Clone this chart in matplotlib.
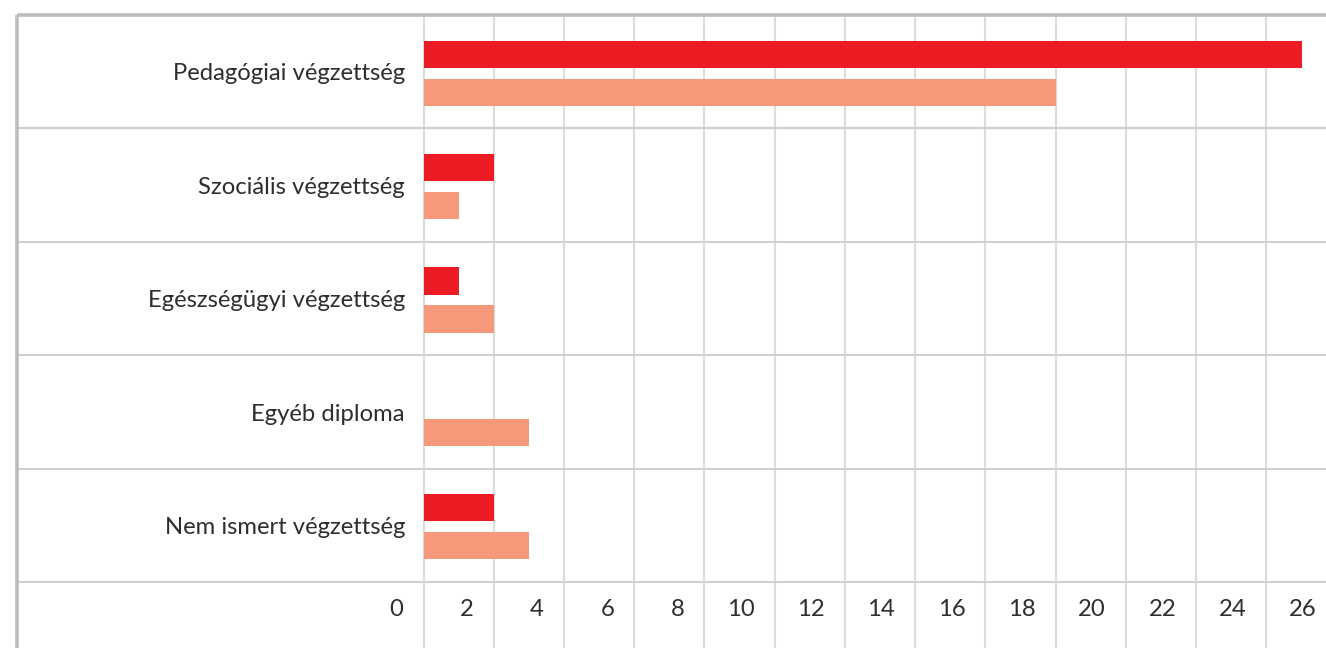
import matplotlib
matplotlib.use("Agg")
import matplotlib.pyplot as pl
import matplotlib.transforms as mtransforms
import numpy as np

categories = ["Pedagógiai végzettség", "Szociális végzettség", "Egészségügyi végzettség",
              "Egyéb diploma", "Nem ismert végzettség"]
series1 = [25, 2, 1, 0, 2]
series2 = [18, 1, 2, 3, 3]
ticks = list(range(0, 28, 2))

RED = "#ed1c24"
SALMON = "#f5997a"
GRID = "#dcdcdc"
SEP = "#d0d0d0"
BORDER = "#bdbdc0"
TEXT = "#2e2e2e"

W, H = 1326, 648
figure = pl.figure(figsize=(W / 100, H / 100), dpi=100)
left, top = 17, 15
axes = figure.add_axes([left / W, 0, (W - left) / W, (H - top) / H])

pxPerUnit = 35.12
zeroPx = 423.5
bandPx = 113.4
axes.set_xlim((left - zeroPx) / pxPerUnit, (W - zeroPx) / pxPerUnit)
axes.set_ylim(len(categories) + (H - 582) / bandPx, 0)
axes.axis("off")

# borders
axes.plot([0, 0], [0, 1], transform=axes.transAxes, color=BORDER, lw=2.6, clip_on=False,
          solid_capstyle="butt")
axes.plot([0, 1], [1, 1], transform=axes.transAxes, color=BORDER, lw=2.6, clip_on=False,
          solid_capstyle="butt")

for t in ticks:
    axes.axvline(t, color=GRID, lw=1.5, zorder=0)
for i in range(1, len(categories) + 1):
    axes.axhline(i, color=SEP, lw=1.5, zorder=0.5)

y = np.arange(len(categories))
barHeight = 0.24
axes.barh(y + 0.345, series1, height=barHeight, color=RED, zorder=2)
axes.barh(y + 0.68, series2, height=barHeight, color=SALMON, zorder=2)

fontFamily = ["Lato", "DejaVu Sans"]
for i, name in enumerate(categories):
    axes.text(-0.53, i + 0.52, name, ha="right", va="center", fontsize=17.2,
              color=TEXT, family=fontFamily)

offset = mtransforms.ScaledTranslation(-20 / 100, 0, figure.dpi_scale_trans)
for t in ticks:
    axes.text(t, len(categories) + 0.24, str(t), ha="right", va="center", fontsize=17.2,
              color=TEXT, family=fontFamily,
              transform=axes.transData + offset, clip_on=False)

figure.savefig("out.png", dpi=100)
pl.close(figure)
